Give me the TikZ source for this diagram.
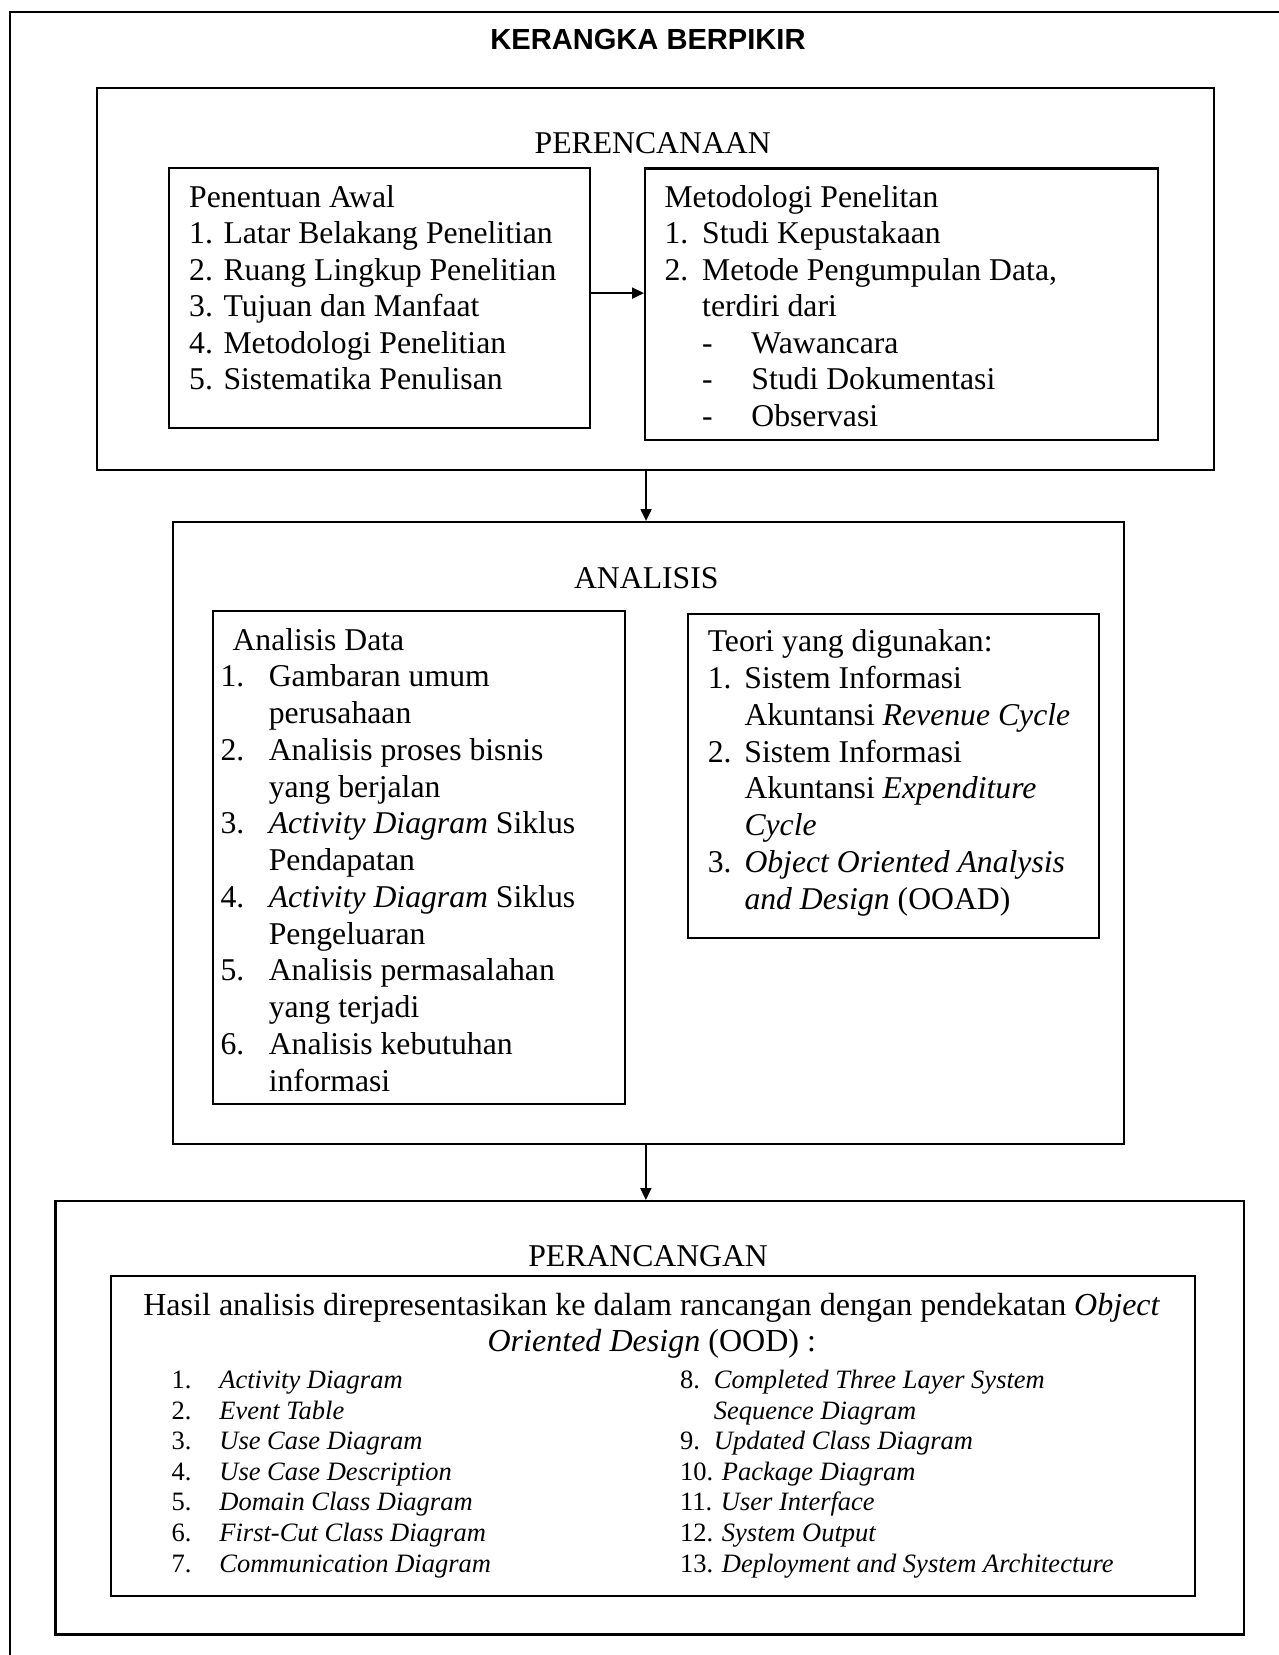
\documentclass[tikz,border=0pt]{standalone}
\usepackage{fontspec}
\setmainfont{Liberation Serif}
\newfontfamily\headfont{Liberation Sans}
\usetikzlibrary{arrows.meta}

% a column of lines whose first baseline is the box baseline
\newcommand\stack[2]{\vtop{\baselineskip=#1\lineskiplimit=-1000pt\lineskip=0pt #2}}
% one numbered line: number in a box of width #1, then the item text
\newcommand\entry[3]{\hbox{\makebox[#1][l]{#2}#3}}

\begin{document}
\begin{tikzpicture}[x=1pt,y=-1pt,
  box/.style={draw, line width=2.2pt, inner sep=0pt, anchor=north west},
  body/.style={inner sep=0pt, anchor=base west, font=\fontsize{31.7}{36.7}\selectfont},
  heading/.style={inner sep=0pt, anchor=base, font=\fontsize{31.7}{36.7}\selectfont},
  lead/.style={inner sep=0pt, anchor=base, font=\fontsize{32.05}{36.7}\selectfont},
  small/.style={inner sep=0pt, anchor=base west, font=\fontsize{26.5}{30.6}\selectfont},
  arr/.style={line width=2pt, -{Triangle[length=12pt,width=11pt]}}]

\useasboundingbox (0,0) rectangle (1279,1655);
\clip (0,0) rectangle (1279,1655);
\fill[white] (0,0) rectangle (1279,1655);

% outer frame (runs off the right and bottom edges)
\node[box, minimum width=1300pt, minimum height=1700pt] (frame) at (9,11) {};
\node[inner sep=0pt, anchor=base, font=\headfont\bfseries\fontsize{29.1}{34}\selectfont]
  (title) at (648,49.8) {KERANGKA BERPIKIR};

% ---------------- PERENCANAAN ----------------
\node[box, minimum width=1116.5pt, minimum height=382.1pt] (plan) at (96,86.5) {};
\node[heading] (plantitle) at (652.7,153) {PERENCANAAN};

\node[box, minimum width=420.6pt, minimum height=260pt] (awal) at (168,167) {};
\node[body] (awaltext) at (189,207.3) {\stack{36.5pt}{%
  \hbox{Penentuan Awal}
  \hbox{1. Latar Belakang Penelitian}
  \hbox{2. Ruang Lingkup Penelitian}
  \hbox{3. Tujuan dan Manfaat}
  \hbox{4. Metodologi Penelitian}
  \hbox{5. Sistematika Penulisan}}};

\node[box, minimum width=512.6pt, minimum height=271.5pt] (meth) at (644,167.3) {};
\node[body] (methtext) at (664.3,207) {\stack{36.58pt}{%
  \hbox{Metodologi Penelitan}
  \entry{37.7pt}{1.}{Studi Kepustakaan}
  \entry{37.7pt}{2.}{Metode Pengumpulan Data,}
  \entry{37.7pt}{}{terdiri dari}
  \hbox{\kern37.7pt\makebox[49.2pt][l]{-}Wawancara}
  \hbox{\kern37.7pt\makebox[49.2pt][l]{-}Studi Dokumentasi}
  \hbox{\kern37.7pt\makebox[49.2pt][l]{-}Observasi}}};

\draw[arr] ([yshift=5pt]awal.east) coordinate (a1) -- (a1 -| meth.west);

% ---------------- ANALISIS ----------------
\node[box, minimum width=950.7pt, minimum height=621.8pt] (ana) at (172,521) {};
\node[heading] (anatitle) at (646.3,588) {ANALISIS};

\draw[arr] ([xshift=-2.4pt]ana.north |- plan.south) -- ([xshift=-2.4pt]ana.north);

\node[box, minimum width=411.9pt, minimum height=493pt] (adata) at (211.8,610) {};
\node[body] (adatatext) at (220.4,650) {\stack{36.75pt}{%
  \hbox{\kern12pt Analisis Data}
  \entry{48.2pt}{1.}{Gambaran umum}
  \entry{48.2pt}{}{perusahaan}
  \entry{48.2pt}{2.}{Analisis proses bisnis}
  \entry{48.2pt}{}{yang berjalan}
  \entry{48.2pt}{3.}{\textit{Activity Diagram} Siklus}
  \entry{48.2pt}{}{Pendapatan}
  \entry{48.2pt}{4.}{\textit{Activity Diagram} Siklus}
  \entry{48.2pt}{}{Pengeluaran}
  \entry{48.2pt}{5.}{Analisis permasalahan}
  \entry{48.2pt}{}{yang terjadi}
  \entry{48.2pt}{6.}{Analisis kebutuhan}
  \entry{48.2pt}{}{informasi}}};

\node[box, minimum width=411.2pt, minimum height=324pt] (teori) at (686.8,612.7) {};
\node[body] (teoritext) at (707.6,651.8) {\stack{36.75pt}{%
  \hbox{Teori yang digunakan:}
  \entry{36.7pt}{1.}{Sistem Informasi}
  \entry{36.7pt}{}{Akuntansi \textit{Revenue Cycle}}
  \entry{36.7pt}{2.}{Sistem Informasi}
  \entry{36.7pt}{}{Akuntansi \textit{Expenditure}}
  \entry{36.7pt}{}{\textit{Cycle}}
  \entry{36.7pt}{3.}{\textit{Object Oriented Analysis}}
  \entry{36.7pt}{}{\textit{and Design} (OOAD)}}};

% ---------------- PERANCANGAN ----------------
\node[box, minimum width=1188.7pt, minimum height=433.4pt] (design) at (54.3,1200) {};
\node[heading] (designtitle) at (648.1,1266.8) {PERANCANGAN};

\draw[arr] ([xshift=-2.6pt]ana.south) -- ([xshift=-2.6pt]ana.south |- design.north);

\node[box, minimum width=1084.2pt, minimum height=319.6pt] (hasil) at (109.8,1275) {};
\node[lead] (hasilA) at (651.8,1315)
  {Hasil analisis direpresentasikan ke dalam rancangan dengan pendekatan \textit{Object}};
\node[lead] (hasilB) at (651.8,1351) {\textit{Oriented Design} (OOD) :};

\node[small] (listA) at (171.4,1388.5) {\stack{30.6pt}{%
  \entry{47.8pt}{1.}{\textit{Activity Diagram}}
  \entry{47.8pt}{2.}{\textit{Event Table}}
  \entry{47.8pt}{3.}{\textit{Use Case Diagram}}
  \entry{47.8pt}{4.}{\textit{Use Case Description}}
  \entry{47.8pt}{5.}{\textit{Domain Class Diagram}}
  \entry{47.8pt}{6.}{\textit{First-Cut Class Diagram}}
  \entry{47.8pt}{7.}{\textit{Communication Diagram}}}};

\node[small] (listB) at (679.8,1388.5) {\stack{30.6pt}{%
  \entry{33.9pt}{8.}{\textit{Completed Three Layer System}}
  \entry{33.9pt}{}{\textit{Sequence Diagram}}
  \entry{33.9pt}{9.}{\textit{Updated Class Diagram}}
  \hbox{10. \textit{Package Diagram}}
  \hbox{11. \textit{User Interface}}
  \hbox{12. \textit{System Output}}
  \hbox{13. \textit{Deployment and System Architecture}}}};

\end{tikzpicture}
\end{document}
